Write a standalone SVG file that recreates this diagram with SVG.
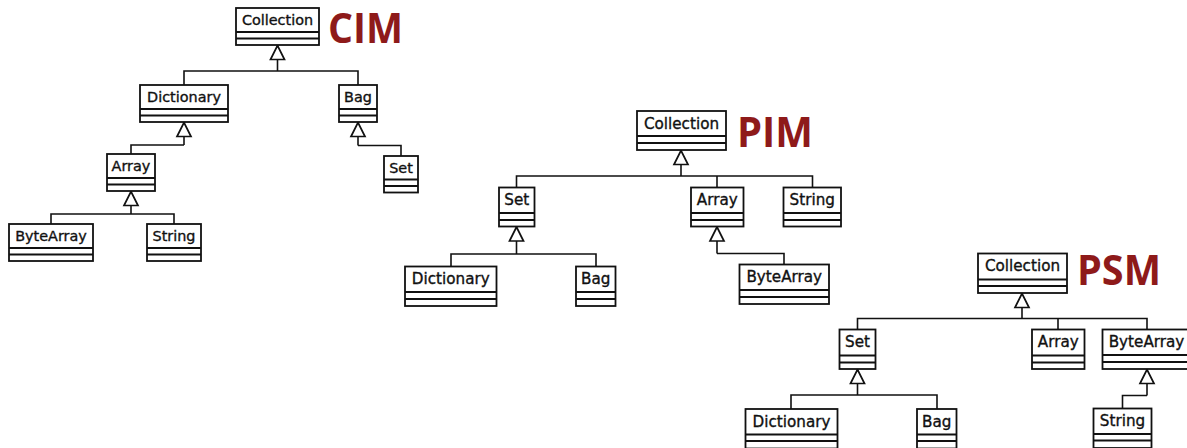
<svg xmlns="http://www.w3.org/2000/svg" width="1187" height="448" viewBox="0 0 1187 448">
  <style>
    .box { fill: #ffffff; stroke: #111111; stroke-width: 1.8; }
    .sep { stroke: #111111; stroke-width: 1.8; }
    .name { font-family: "DejaVu Sans", sans-serif; font-size: 15.2px; fill: #111111; stroke: #111111; stroke-width: 0.35; text-anchor: middle; }
    #cim .name { font-size: 14.4px; }
    .wire { fill: none; stroke: #111111; stroke-width: 1.6; }
    .trunk { fill: none; stroke: #111111; stroke-width: 1.6; marker-end: url(#gen); }
    .title { font-family: "Open Sans", "Noto Sans", sans-serif; font-weight: bold; font-size: 42px; fill: #8e1a1a; }
  </style>
  <defs>
    <!-- hollow generalization arrowhead, tip at the end of the path -->
    <marker id="gen" markerUnits="userSpaceOnUse" viewBox="-2 -9 18 18" markerWidth="18" markerHeight="18" refX="14" refY="0" orient="auto">
      <polygon points="0,-7 14,0 0,7" fill="#ffffff" stroke="#111111" stroke-width="1.7"/>
    </marker>
  </defs>
  <rect width="1187" height="448" fill="#ffffff"/>

  <!-- section titles -->
  <text class="title" x="328" y="43" textLength="75" lengthAdjust="spacingAndGlyphs">CIM</text>
  <text class="title" x="737" y="146.5" textLength="76" lengthAdjust="spacingAndGlyphs">PIM</text>
  <text class="title" x="1077" y="284.5" textLength="84" lengthAdjust="spacingAndGlyphs">PSM</text>

  <g id="connectors">
    <!-- CIM -->
    <path class="wire" d="M184 85 V71 H358 V85"/>
    <path class="trunk" d="M277.5 71 V45.5"/>
    <path class="wire" d="M131 154 V145 H184"/>
    <path class="trunk" d="M184 145 V122.5"/>
    <path class="wire" d="M51 224 V214 H174 V224"/>
    <path class="trunk" d="M131 214 V191.5"/>
    <path class="wire" d="M358 145.5 H401 V156"/>
    <path class="trunk" d="M358 145.5 V122.5"/>
    <!-- PIM -->
    <path class="wire" d="M516.5 187.5 V176 H812.5 V187.5 M717 176 V187.5"/>
    <path class="trunk" d="M681 176 V150.5"/>
    <path class="wire" d="M451 266.5 V254 H596 V266.5"/>
    <path class="trunk" d="M516.5 254 V227"/>
    <path class="wire" d="M717 253.5 H784 V264.5"/>
    <path class="trunk" d="M717 253.5 V227"/>
    <!-- PSM -->
    <path class="wire" d="M857.5 329.5 V318.5 H1147 V329.5 M1058 318.5 V329.5"/>
    <path class="trunk" d="M1022 318.5 V293.5"/>
    <path class="wire" d="M791 409 V395 H937 V409"/>
    <path class="trunk" d="M857.5 395 V369.5"/>
    <path class="wire" d="M1147 395.5 H1122.5 V408.5"/>
    <path class="trunk" d="M1147 395.5 V369.5"/>
  </g>

  <g id="cim">
    <g id="cim-collection">
      <rect class="box" x="236" y="8" width="83" height="37"/>
      <line class="sep" x1="236" y1="32" x2="319" y2="32"/>
      <line class="sep" x1="236" y1="38.5" x2="319" y2="38.5"/>
      <text class="name" x="277.5" y="25">Collection</text>
    </g>
    <g id="cim-dictionary">
      <rect class="box" x="140" y="85" width="88" height="37"/>
      <line class="sep" x1="140" y1="109" x2="228" y2="109"/>
      <line class="sep" x1="140" y1="115.5" x2="228" y2="115.5"/>
      <text class="name" x="184" y="102">Dictionary</text>
    </g>
    <g id="cim-bag">
      <rect class="box" x="339" y="85" width="38" height="37"/>
      <line class="sep" x1="339" y1="109" x2="377" y2="109"/>
      <line class="sep" x1="339" y1="115.5" x2="377" y2="115.5"/>
      <text class="name" x="358" y="102">Bag</text>
    </g>
    <g id="cim-array">
      <rect class="box" x="107" y="154" width="48" height="37"/>
      <line class="sep" x1="107" y1="178" x2="155" y2="178"/>
      <line class="sep" x1="107" y1="184.5" x2="155" y2="184.5"/>
      <text class="name" x="131" y="171">Array</text>
    </g>
    <g id="cim-set">
      <rect class="box" x="384" y="156" width="34" height="36.5"/>
      <line class="sep" x1="384" y1="179.5" x2="418" y2="179.5"/>
      <line class="sep" x1="384" y1="186" x2="418" y2="186"/>
      <text class="name" x="401" y="173">Set</text>
    </g>
    <g id="cim-bytearray">
      <rect class="box" x="9" y="224" width="84" height="37"/>
      <line class="sep" x1="9" y1="248" x2="93" y2="248"/>
      <line class="sep" x1="9" y1="254.5" x2="93" y2="254.5"/>
      <text class="name" x="51" y="241">ByteArray</text>
    </g>
    <g id="cim-string">
      <rect class="box" x="147" y="224" width="54" height="37"/>
      <line class="sep" x1="147" y1="248" x2="201" y2="248"/>
      <line class="sep" x1="147" y1="254.5" x2="201" y2="254.5"/>
      <text class="name" x="174" y="241">String</text>
    </g>
  </g>

  <g id="pim">
    <g id="pim-collection">
      <rect class="box" x="637" y="111" width="89" height="39"/>
      <line class="sep" x1="637" y1="136" x2="726" y2="136"/>
      <line class="sep" x1="637" y1="143" x2="726" y2="143"/>
      <text class="name" x="681.5" y="128.5">Collection</text>
    </g>
    <g id="pim-set">
      <rect class="box" x="499" y="187.5" width="35.5" height="39"/>
      <line class="sep" x1="499" y1="213" x2="534.5" y2="213"/>
      <line class="sep" x1="499" y1="220" x2="534.5" y2="220"/>
      <text class="name" x="516.75" y="205">Set</text>
    </g>
    <g id="pim-array">
      <rect class="box" x="691" y="187.5" width="52.5" height="39"/>
      <line class="sep" x1="691" y1="213" x2="743.5" y2="213"/>
      <line class="sep" x1="691" y1="220" x2="743.5" y2="220"/>
      <text class="name" x="717.25" y="205">Array</text>
    </g>
    <g id="pim-string">
      <rect class="box" x="783.5" y="187.5" width="57.5" height="39"/>
      <line class="sep" x1="783.5" y1="213" x2="841" y2="213"/>
      <line class="sep" x1="783.5" y1="220" x2="841" y2="220"/>
      <text class="name" x="812.25" y="205">String</text>
    </g>
    <g id="pim-dictionary">
      <rect class="box" x="405" y="266.5" width="91.5" height="39.5"/>
      <line class="sep" x1="405" y1="292" x2="496.5" y2="292"/>
      <line class="sep" x1="405" y1="299" x2="496.5" y2="299"/>
      <text class="name" x="450.75" y="284">Dictionary</text>
    </g>
    <g id="pim-bag">
      <rect class="box" x="576" y="266.5" width="39.5" height="39.5"/>
      <line class="sep" x1="576" y1="292" x2="615.5" y2="292"/>
      <line class="sep" x1="576" y1="299" x2="615.5" y2="299"/>
      <text class="name" x="595.75" y="284">Bag</text>
    </g>
    <g id="pim-bytearray">
      <rect class="box" x="739.5" y="264.5" width="89.5" height="39.5"/>
      <line class="sep" x1="739.5" y1="290" x2="829" y2="290"/>
      <line class="sep" x1="739.5" y1="297" x2="829" y2="297"/>
      <text class="name" x="784.25" y="282">ByteArray</text>
    </g>
  </g>

  <g id="psm">
    <g id="psm-collection">
      <rect class="box" x="978" y="253.5" width="89" height="39.5"/>
      <line class="sep" x1="978" y1="279.5" x2="1067" y2="279.5"/>
      <line class="sep" x1="978" y1="286" x2="1067" y2="286"/>
      <text class="name" x="1022.5" y="271">Collection</text>
    </g>
    <g id="psm-set">
      <rect class="box" x="839.5" y="329.5" width="36" height="39.5"/>
      <line class="sep" x1="839.5" y1="355.5" x2="875.5" y2="355.5"/>
      <line class="sep" x1="839.5" y1="362.5" x2="875.5" y2="362.5"/>
      <text class="name" x="857.5" y="347">Set</text>
    </g>
    <g id="psm-array">
      <rect class="box" x="1032" y="329.5" width="52.5" height="39.5"/>
      <line class="sep" x1="1032" y1="355.5" x2="1084.5" y2="355.5"/>
      <line class="sep" x1="1032" y1="362.5" x2="1084.5" y2="362.5"/>
      <text class="name" x="1058.25" y="347">Array</text>
    </g>
    <g id="psm-bytearray">
      <rect class="box" x="1102.5" y="329.5" width="89" height="39.5"/>
      <line class="sep" x1="1102.5" y1="355" x2="1191.5" y2="355"/>
      <line class="sep" x1="1102.5" y1="362" x2="1191.5" y2="362"/>
      <text class="name" x="1146.5" y="347">ByteArray</text>
    </g>
    <g id="psm-dictionary">
      <rect class="box" x="745.5" y="409" width="92" height="39.5"/>
      <line class="sep" x1="745.5" y1="434.5" x2="837.5" y2="434.5"/>
      <line class="sep" x1="745.5" y1="441" x2="837.5" y2="441"/>
      <text class="name" x="791.5" y="426.5">Dictionary</text>
    </g>
    <g id="psm-bag">
      <rect class="box" x="917" y="409" width="39.5" height="39.5"/>
      <line class="sep" x1="917" y1="434.5" x2="956.5" y2="434.5"/>
      <line class="sep" x1="917" y1="441" x2="956.5" y2="441"/>
      <text class="name" x="936.75" y="426.5">Bag</text>
    </g>
    <g id="psm-string">
      <rect class="box" x="1093.5" y="408.5" width="58" height="39.5"/>
      <line class="sep" x1="1093.5" y1="434" x2="1151.5" y2="434"/>
      <line class="sep" x1="1093.5" y1="440.5" x2="1151.5" y2="440.5"/>
      <text class="name" x="1122.5" y="426">String</text>
    </g>
  </g>
</svg>
